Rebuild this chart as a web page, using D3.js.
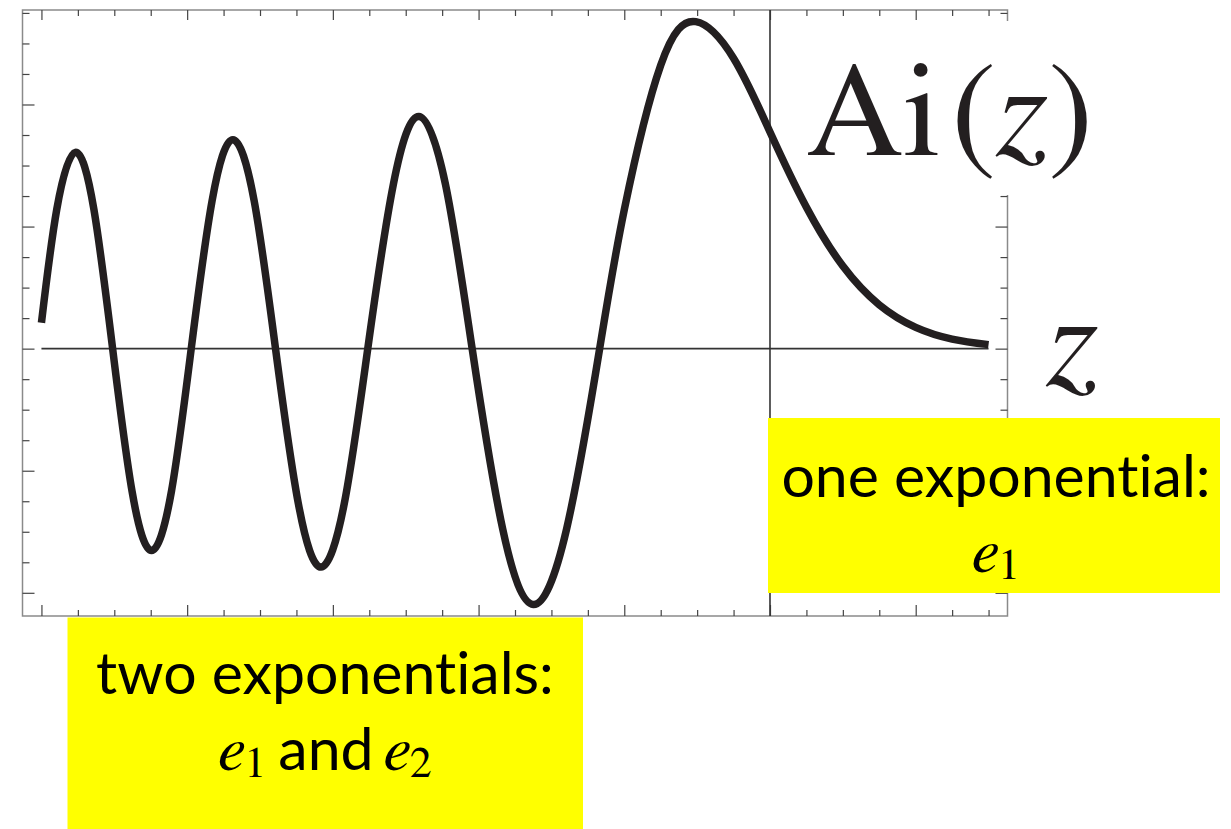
<!DOCTYPE html>
<html>
<head>
<meta charset="utf-8">
<script src="https://cdn.jsdelivr.net/npm/d3@7"></script>
<style>
  html, body { margin: 0; padding: 0; background: #fff; }
  svg { display: block; }
  text { font-variant-ligatures: none; }
</style>
</head>
<body>
<svg id="chart" width="1231" height="829"></svg>
<script>
// Airy function Ai(z) sampled at its zeros, extrema and in-between points
const zValues = [
  -10.00, -9.79, -9.535, -9.28, -9.023, -8.756, -8.4885, -8.216, -7.944,
  -7.658, -7.372, -7.080, -6.787, -6.475, -6.163, -5.842, -5.521,
  -5.170, -4.820, -4.454, -4.088, -3.668, -3.248, -2.793, -2.338,
  -2.00, -1.50, -1.019, -0.50, 0.00, 0.50, 1.00, 1.50, 2.00, 2.50, 3.00
];
const aiValues = [
  0.0424, 0.228, 0.3215, 0.228, 0.000, -0.234, -0.3307, -0.234, 0.000,
  0.242, 0.3423, 0.242, 0.000, -0.253, -0.3579, -0.253, 0.000,
  0.269, 0.3804, 0.269, 0.000, -0.296, -0.4190, -0.296, 0.000,
  0.2274, 0.4642, 0.5357, 0.4757, 0.3550, 0.2317, 0.1353, 0.0718, 0.0349, 0.0157, 0.0066
];

// Frame tick positions
const xTickMinor = d3.range(-10, 3.001, 0.5);
const xTickMajor = [-10, -8, -6, -4, -2, 0, 2];
const yTickMinor = d3.range(-0.40, 0.5501, 0.05).map(v => +v.toFixed(2));
const yTickMajor = [-0.4, -0.2, 0, 0.2, 0.4];

// Annotation text
const funcLabel = ["Ai", "(", "z", ")"];
const axisLabel = "z";
// second lines: [symbol, subscript] pairs joined by plain words
const leftBoxLines = ["two exponentials:", [["e", "1"], "and", ["e", "2"]]];
const rightBoxLines = ["one exponential:", [["e", "1"]]];

const svg = d3.select("#chart");

const frameL = 22.5, frameR = 1007.5, frameT = 10, frameB = 616;
const x = d3.scaleLinear().domain([-10.26, 3.26]).range([frameL, frameR]);
const y = d3.scaleLinear().domain([-0.438, 0.5548]).range([frameB, frameT]);

const tickColor = "#444";
const frameColor = "#8a8a8a";

// frame
svg.append("rect")
  .attr("x", frameL).attr("y", frameT)
  .attr("width", frameR - frameL).attr("height", frameB - frameT)
  .attr("fill", "none").attr("stroke", frameColor).attr("stroke-width", 1.5);

function tickAxis(gen, values, size, tx, ty) {
  const g = svg.append("g")
    .attr("transform", `translate(${tx},${ty})`)
    .call(gen.tickValues(values).tickSize(size).tickSizeOuter(0).tickFormat(""));
  g.select(".domain").remove();
  g.selectAll(".tick line").attr("stroke", tickColor).attr("stroke-width", 1.2);
  return g;
}

const xMinorOnly = xTickMinor.filter(v => !xTickMajor.includes(v));
const yMinorOnly = yTickMinor.filter(v => !yTickMajor.some(m => Math.abs(m - v) < 1e-9));

// bottom frame ticks (pointing up) and top frame ticks (pointing down)
tickAxis(d3.axisTop(x), xMinorOnly, 6, 0, frameB);
tickAxis(d3.axisTop(x), xTickMajor, 11, 0, frameB);
tickAxis(d3.axisBottom(x), xMinorOnly, 6, 0, frameT);
tickAxis(d3.axisBottom(x), xTickMajor, 10, 0, frameT);
// left and right frame ticks (pointing inward)
tickAxis(d3.axisRight(y), yMinorOnly, 7, frameL, 0);
tickAxis(d3.axisRight(y), yTickMajor, 12, frameL, 0);
tickAxis(d3.axisLeft(y), yMinorOnly, 7, frameR, 0);
tickAxis(d3.axisLeft(y), yTickMajor, 12, frameR, 0);

// coordinate axes
svg.append("line")
  .attr("x1", x(d3.min(zValues))).attr("x2", x(d3.max(zValues)))
  .attr("y1", y(0)).attr("y2", y(0))
  .attr("stroke", "#333").attr("stroke-width", 1.6);
svg.append("line")
  .attr("x1", x(0)).attr("x2", x(0))
  .attr("y1", frameT).attr("y2", frameB)
  .attr("stroke", "#333").attr("stroke-width", 1.6);

// the curve
const pts = zValues.map((z, i) => [z, aiValues[i]]);
svg.append("path")
  .datum(pts)
  .attr("fill", "none")
  .attr("stroke", "#231f20")
  .attr("stroke-width", 7.5)
  .attr("stroke-linecap", "butt")
  .attr("d", d3.line().x(d => x(d[0])).y(d => y(d[1])).curve(d3.curveNatural));

// label backdrop for Ai(z)
svg.append("rect")
  .attr("x", 806).attr("y", 21).attr("width", 300).attr("height", 174)
  .attr("fill", "#fff");

const serif = "FreeSerif, 'Liberation Serif', serif";
const sans = "Lato, 'Open Sans', sans-serif";

const fl = svg.append("text")
  .attr("x", 806).attr("y", 155)
  .attr("font-family", serif).attr("font-size", 135).attr("fill", "#231f20");
fl.append("tspan").text(funcLabel[0]);
fl.append("tspan").attr("dx", 10).text(funcLabel[1]);
fl.append("tspan").attr("font-style", "italic").text(funcLabel[2]);
fl.append("tspan").text(funcLabel[3]);

svg.append("text")
  .attr("x", 1046).attr("y", 385)
  .attr("font-family", serif).attr("font-style", "italic")
  .attr("font-size", 135).attr("fill", "#231f20")
  .text(axisLabel);

// annotation boxes
const yellow = "#ffff00";
svg.append("rect").attr("x", 67.5).attr("y", 617.5).attr("width", 515.5).attr("height", 212).attr("fill", yellow);
svg.append("rect").attr("x", 768).attr("y", 418).attr("width", 452).attr("height", 175).attr("fill", yellow);

function boxText(cx, y1, y2, lines) {
  svg.append("text")
    .attr("x", cx).attr("y", y1).attr("text-anchor", "middle")
    .attr("font-family", sans).attr("font-size", 59).attr("fill", "#000")
    .text(lines[0]);
  const t = svg.append("text")
    .attr("x", cx).attr("y", y2).attr("text-anchor", "middle").attr("fill", "#000");
  const subShift = 7;
  let shifted = false;
  lines[1].forEach((part, i) => {
    if (Array.isArray(part)) {
      t.append("tspan").attr("font-family", serif).attr("font-style", "italic")
        .attr("font-size", 64)
        .attr("dx", i === 0 ? 0 : 10)
        .attr("dy", shifted ? -subShift : 0)
        .text(part[0]);
      t.append("tspan").attr("font-family", serif).attr("font-size", 44)
        .attr("dy", subShift).text(part[1]);
      shifted = true;
    } else {
      t.append("tspan").attr("font-family", sans).attr("font-size", 59)
        .attr("dx", 12).attr("dy", shifted ? -subShift : 0).text(part);
      shifted = false;
    }
  });
}
boxText(325, 694, 770, leftBoxLines);
boxText(996, 497, 572, rightBoxLines);
</script>
</body>
</html>
